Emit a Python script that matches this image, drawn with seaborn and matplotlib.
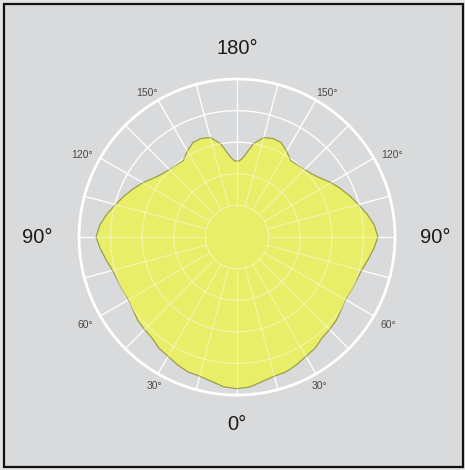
import numpy as np
import matplotlib.pyplot as plt
import matplotlib.patches as mpatches
import seaborn as sns

# photometric profile, angle from nadir (deg) -> intensity
angles = [0, 5, 10, 15, 20, 25, 30, 35, 40, 45, 50, 55, 60, 65, 70, 75, 80, 85, 90,
          95, 100, 105, 110, 115, 120, 125, 130, 135, 140, 145, 150, 155, 160, 165,
          170, 173, 176, 178, 180]
intensity = [240, 238, 232, 228, 227, 223, 218, 215, 209, 207, 205, 201, 199, 200,
             201, 204, 210, 217, 223, 218, 209, 199, 190, 181, 172, 162, 155, 151,
             149, 148, 157, 165, 166, 163, 150, 136, 125, 121, 120]

rings = [50, 100, 150, 200]
r_max = 250
spokes = list(range(0, 360, 15))

big_labels = ["0°", "90°", "180°", "90°"]
big_pos = [(0, 296), (90, 314), (180, 298), (270, 316)]
small_labels = ["30°", "60°", "120°", "150°", "150°", "120°", "60°", "30°"]
small_pos = [(29, 270), (60, 277), (118, 277), (148, 268),
             (212, 268), (242, 277), (300, 277), (331, 270)]

sns.set_theme(style="white")
plt.rcParams['font.family'] = ['Liberation Sans', 'DejaVu Sans']

bg = "#d9dadb"
fig = plt.figure(figsize=(4.65, 4.7), dpi=100, facecolor="#e4e4e4")
fig.patches.append(mpatches.Rectangle((3.5 / 465, 3.5 / 470), 459 / 465, 463 / 470,
                                      transform=fig.transFigure, facecolor=bg,
                                      edgecolor="#111111", linewidth=1.6, zorder=-10))

ax = fig.add_axes([0.1699, 0.1595, 0.6796, 0.6723], projection="polar")
ax.set_facecolor("none")
ax.set_theta_zero_location("S")
ax.set_ylim(0, r_max)
ax.grid(False)
ax.set_xticks([])
ax.set_yticks([])
ax.spines["polar"].set_color("white")
ax.spines["polar"].set_linewidth(2)

# full outline: right half then mirrored left half
th = np.deg2rad(angles + [360 - a for a in angles[::-1]])
rr = intensity + intensity[::-1]

circ = np.linspace(0, 2 * np.pi, 361)


def draw_grid(alpha, z):
    for r in rings:
        ax.plot(circ, [r] * len(circ), color="white", lw=0.9, alpha=alpha, zorder=z)
    ax.vlines(np.deg2rad(spokes), rings[0], r_max, colors="white", lw=0.9,
              alpha=alpha, zorder=z)


draw_grid(0.95, 1)
ax.fill(th, rr, color="#e9ee68", zorder=2)
sns.lineplot(x=th, y=rr, sort=False, ax=ax, color="#9a9a5c", lw=0.9, zorder=3)
draw_grid(0.4, 4)

for lab, (a, r) in zip(big_labels, big_pos):
    ax.text(np.deg2rad(a), r, lab, ha="center", va="center", fontsize=14.5,
            color="#1c1c1c", clip_on=False)
for lab, (a, r) in zip(small_labels, small_pos):
    ax.text(np.deg2rad(a), r, lab, ha="center", va="center", fontsize=7.5,
            color="#4a4a4a", clip_on=False)

fig.savefig("out.png", dpi=100, facecolor=fig.get_facecolor())
